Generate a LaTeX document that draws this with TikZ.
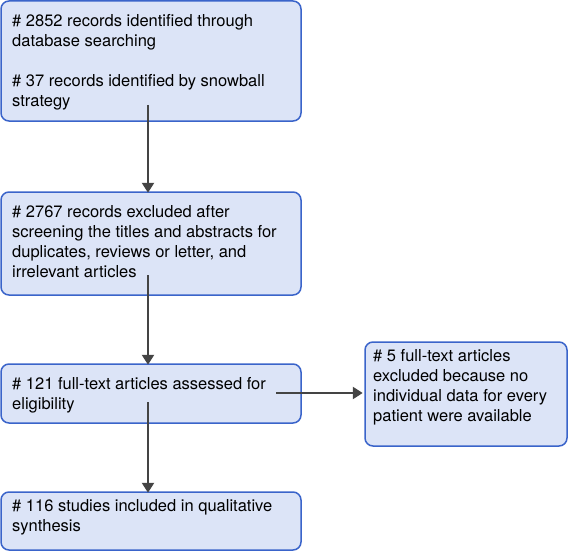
\documentclass[tikz,border=0pt]{standalone}
\usepackage{fontspec}
\setmainfont{TeX Gyre Heros}
\usetikzlibrary{arrows.meta}
\definecolor{boxfill}{RGB}{220,228,247}
\definecolor{boxline}{RGB}{58,100,202}
\definecolor{arrowcol}{RGB}{68,68,68}
\tikzset{
  flowbox/.style={draw=boxline, fill=boxfill, line width=1.5pt, rounded corners=8pt, inner sep=0pt},
  flowtext/.style={anchor=north west, inner sep=0pt, align=left, font=\fontsize{16.5}{20}\selectfont},
  flowarrow/.style={draw=arrowcol, line width=2.5pt, -{Triangle[width=12pt,length=10pt]}}
}
\begin{document}
\begin{tikzpicture}[x=1pt,y=-1pt]
\useasboundingbox (0,0) rectangle (568,551);
% boxes
\node[flowbox, minimum width=300pt, minimum height=120pt] (b1) at (151,61) {};
\node[flowbox, minimum width=300pt, minimum height=103pt] (b2) at (151,243.5) {};
\node[flowbox, minimum width=300pt, minimum height=59pt] (b3) at (151,393.5) {};
\node[flowbox, minimum width=202pt, minimum height=104pt] (b4) at (466,394) {};
\node[flowbox, minimum width=300pt, minimum height=58pt] (b5) at (151,521) {};
% texts
\node[flowtext] (t1) at (12,14) {\# 2852 records identified through\\database searching\\[20pt]\# 37 records identified by snowball\\strategy};
\node[flowtext] (t2) at (12,205) {\# 2767 records excluded after\\screening the titles and abstracts for\\duplicates, reviews or letter, and\\irrelevant articles};
\node[flowtext] (t3) at (12,377) {\# 121 full-text articles assessed for\\eligibility};
\node[flowtext] (t4) at (373,349) {\# 5 full-text articles\\excluded because no\\individual data for every\\patient were available};
\node[flowtext] (t5) at (12,499) {\# 116 studies included in qualitative\\synthesis};
% arrow starts
\coordinate (s1) at (148,105);
\coordinate (s2) at (148,275);
\coordinate (s3) at (148,402);
\coordinate (s4) at (276,393);
% arrows
\draw[flowarrow] (s1) -- ([yshift=-1.5pt]s1 |- b2.north);
\draw[flowarrow] (s2) -- ([yshift=-1.5pt]s2 |- b3.north);
\draw[flowarrow] (s3) -- ([yshift=-1.5pt]s3 |- b5.north);
\draw[flowarrow] (s4) -- ([xshift=-1.5pt]s4 -| b4.west);
\end{tikzpicture}
\end{document}
